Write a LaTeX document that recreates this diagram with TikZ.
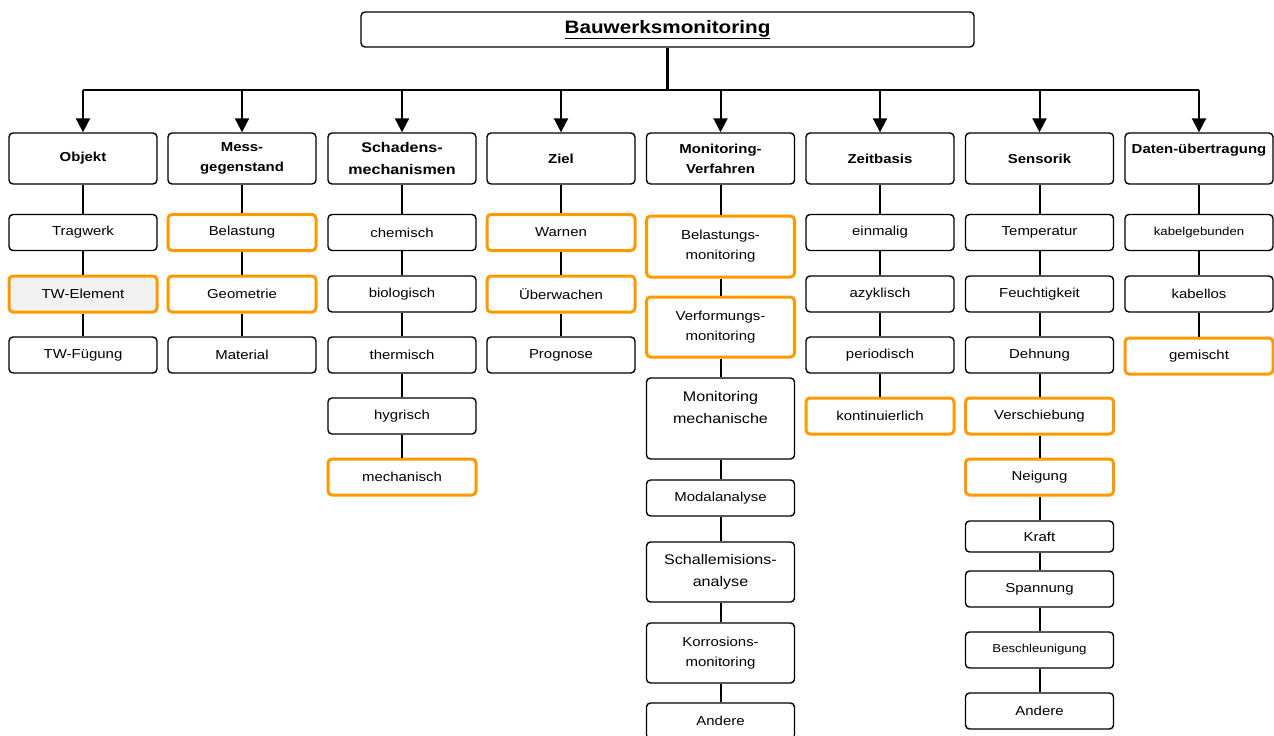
\documentclass[tikz,border=0pt]{standalone}
\usepackage{fontspec}
\setmainfont[FakeStretch=1.15]{Liberation Sans}
\usetikzlibrary{arrows.meta}
\definecolor{orng}{RGB}{255,153,0}

\begin{document}
\begin{tikzpicture}[x=1pt,y=-1pt,
  box/.style={draw, rounded corners=4pt, line width=1.4pt, minimum width=148pt,
    minimum height=36pt, align=center, inner sep=1pt, font=\fontsize{13}{20}\selectfont},
  kopf/.style={box, minimum height=51pt, font=\bfseries\fontsize{13}{20}\selectfont},
  obox/.style={box, draw=orng, line width=3pt},
  klein/.style={font=\fontsize{11.5}{20}\selectfont},
  gross/.style={font=\fontsize{14}{22}\selectfont},
  linie/.style={line width=2pt},
  stamm/.style={line width=2.4pt},
  pfeil/.style={line width=2pt, -{Triangle[length=14pt,width=14pt]}}]
\useasboundingbox (0,0) rectangle (1274,736);

\node[box, minimum width=613pt, minimum height=35pt, font=\bfseries\fontsize{18}{20}\selectfont] (titel) at (667.5,29.5) {\underline{Bauwerksmonitoring}};
\coordinate (bar) at (667.5,90);

% Kopfzeile
\node[kopf] (objekt) at (83,158.5) {Objekt};
\node[kopf] (mess) at (242,158.5) {Mess-\\gegenstand};
\node[kopf, font=\bfseries\fontsize{14}{22}\selectfont] (schaden) at (402,158.5) {Schadens-\\mechanismen};
\node[kopf] (ziel) at (561,158.5) {Ziel};
\node[kopf] (verfahren) at (720.5,158.5) {Monitoring-\\Verfahren};
\node[kopf] (zeit) at (880,158.5) {Zeitbasis};
\node[kopf] (sensorik) at (1039.5,158.5) {Sensorik};
\node[kopf] (daten) at (1199,158.5) {Daten-übertragung\\~};

% Objekt
\node[box] (tragwerk) at (83,232.5) {Tragwerk};
\node[obox, fill=gray!10] (twelement) at (83,294) {TW-Element};
\node[box] (twfuegung) at (83,355) {TW-Fügung};

% Messgegenstand
\node[obox] (belastung) at (242,232.5) {Belastung};
\node[obox] (geometrie) at (242,294) {Geometrie};
\node[box] (material) at (242,355) {Material};

% Schadensmechanismen
\node[box] (chemisch) at (402,232.5) {chemisch};
\node[box] (biologisch) at (402,294) {biologisch};
\node[box] (thermisch) at (402,355) {thermisch};
\node[box] (hygrisch) at (402,416) {hygrisch};
\node[obox] (mechanisch) at (402,477) {mechanisch};

% Ziel
\node[obox] (warnen) at (561,232.5) {Warnen};
\node[obox] (ueberwachen) at (561,294) {Überwachen};
\node[box] (prognose) at (561,355) {Prognose};

% Monitoring-Verfahren
\node[obox, minimum height=61pt] (blmon) at (720.5,246.5) {Belastungs-\\monitoring};
\node[obox, minimum height=60pt] (vfmon) at (720.5,327) {Verformungs-\\monitoring};
\node[box, gross, minimum height=81pt] (mechmon) at (720.5,418.5) {Monitoring\\mechanische\\~};
\node[box] (modal) at (720.5,498) {Modalanalyse};
\node[box, gross, minimum height=60pt] (schall) at (720.5,572) {Schallemisions-\\analyse};
\node[box, minimum height=60pt] (korrosion) at (720.5,653) {Korrosions-\\monitoring};
\node[box] (andereV) at (720.5,721) {Andere};

% Zeitbasis
\node[box] (einmalig) at (880,232.5) {einmalig};
\node[box] (azyklisch) at (880,294) {azyklisch};
\node[box] (periodisch) at (880,355) {periodisch};
\node[obox] (kontinuierlich) at (880,416) {kontinuierlich};

% Sensorik
\node[box] (temperatur) at (1039.5,232.5) {Temperatur};
\node[box] (feuchte) at (1039.5,294) {Feuchtigkeit};
\node[box] (dehnung) at (1039.5,355) {Dehnung};
\node[obox] (verschiebung) at (1039.5,416) {Verschiebung};
\node[obox] (neigung) at (1039.5,477) {Neigung};
\node[box, minimum height=31pt] (kraft) at (1039.5,536.5) {Kraft};
\node[box] (spannung) at (1039.5,589) {Spannung};
\node[box, klein] (beschl) at (1039.5,650) {Beschleunigung};
\node[box] (andereS) at (1039.5,711) {Andere};

% Datenuebertragung
\node[box, klein] (kabelgeb) at (1199,232.5) {kabelgebunden};
\node[box] (kabellos) at (1199,294) {kabellos};
\node[obox] (gemischt) at (1199,356) {gemischt};

\draw[stamm] (titel.south) -- (bar);
\draw[stamm] (objekt.north |- bar) -- (daten.north |- bar);
\foreach \n in {objekt,mess,schaden,ziel,verfahren,zeit,sensorik,daten}
  \draw[pfeil] (\n.north |- bar) -- (\n.north);

\foreach \a/\b in {objekt/tragwerk, tragwerk/twelement, twelement/twfuegung,
    mess/belastung, belastung/geometrie, geometrie/material,
    schaden/chemisch, chemisch/biologisch, biologisch/thermisch, thermisch/hygrisch, hygrisch/mechanisch,
    ziel/warnen, warnen/ueberwachen, ueberwachen/prognose,
    verfahren/blmon, blmon/vfmon, vfmon/mechmon, mechmon/modal, modal/schall, schall/korrosion, korrosion/andereV,
    zeit/einmalig, einmalig/azyklisch, azyklisch/periodisch, periodisch/kontinuierlich,
    sensorik/temperatur, temperatur/feuchte, feuchte/dehnung, dehnung/verschiebung, verschiebung/neigung,
    neigung/kraft, kraft/spannung, spannung/beschl, beschl/andereS,
    daten/kabelgeb, kabelgeb/kabellos, kabellos/gemischt}
  \draw[linie] (\a.south) -- (\b.north);
\end{tikzpicture}
\end{document}
